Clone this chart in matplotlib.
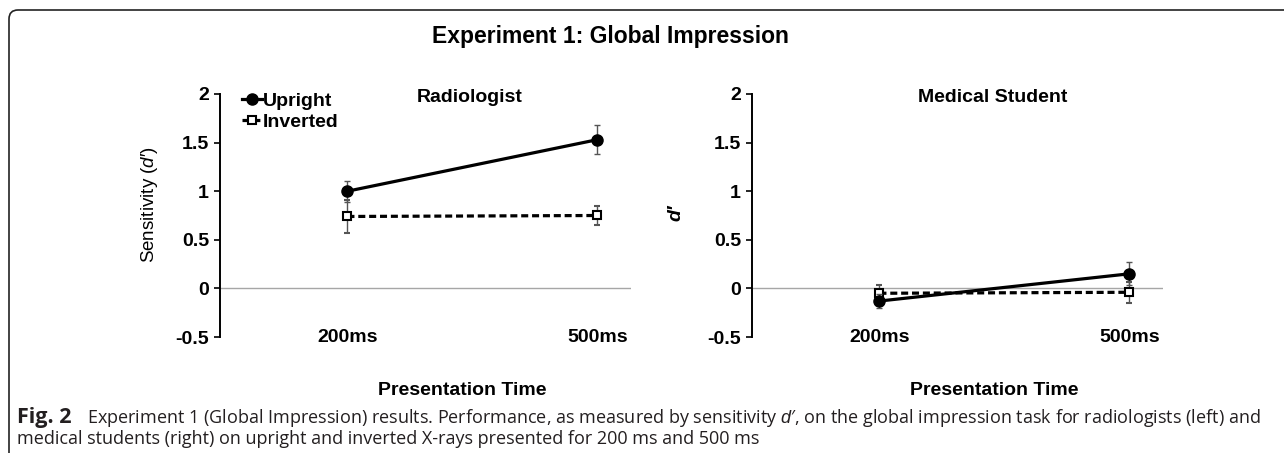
import matplotlib
matplotlib.use("Agg")
import matplotlib.pyplot as plt
from matplotlib.lines import Line2D
from matplotlib.patches import FancyBboxPatch
from matplotlib.transforms import IdentityTransform

times = ["200ms", "500ms"]
x_pos = [0, 1]

rad_upright = [1.00, 1.53]
rad_upright_err = [0.11, 0.15]
rad_inverted = [0.74, 0.75]
rad_inverted_err = [0.17, 0.10]

stu_upright = [-0.13, 0.15]
stu_upright_err = [0.07, 0.12]
stu_inverted = [-0.05, -0.04]
stu_inverted_err = [0.08, 0.11]

y_ticks = [-0.5, 0, 0.5, 1, 1.5, 2]
y_ticklabels = ["-0.5", "0", "0.5", "1", "1.5", "2"]

plt.rcParams["font.family"] = ["Liberation Sans", "DejaVu Sans"]
plt.rcParams["mathtext.fontset"] = "custom"
plt.rcParams["mathtext.rm"] = "Liberation Sans"
plt.rcParams["mathtext.it"] = "Liberation Sans:italic"
plt.rcParams["mathtext.bf"] = "Liberation Sans:bold"

W, H = 1284, 453
fig = plt.figure(figsize=(W / 100, H / 100), dpi=100)

up_style = dict(color="black", ls="-", lw=2.3, marker="o", ms=8, mfc="black", mec="black")
inv_style = dict(color="black", ls=(0, (2.2, 1.2)), lw=2.3, marker="s", ms=5.5,
                 mfc="white", mec="black", mew=1.5)
err_style = dict(ecolor="#555555", elinewidth=1.0, capsize=2, capthick=1.0)


def px_axes(x0, x1, y_top, y_bot):
    return fig.add_axes([x0 / W, 1 - y_bot / H, (x1 - x0) / W, (y_bot - y_top) / H])


def panel(ax, up, up_err, inv, inv_err, title, title_x):
    ax.axhline(0, color="#a6a6a6", lw=1.0, zorder=0)
    ax.errorbar(x_pos, inv, yerr=inv_err, zorder=3, **inv_style, **err_style)
    ax.errorbar(x_pos, up, yerr=up_err, zorder=4, **up_style, **err_style)
    ax.set_xlim(-0.51, 1.135)
    ax.set_ylim(-0.5, 2)
    for s in ["top", "right", "bottom"]:
        ax.spines[s].set_visible(False)
    ax.spines["left"].set_linewidth(1.4)
    ax.set_yticks(y_ticks)
    ax.set_yticklabels(y_ticklabels, fontsize=14, fontweight="bold")
    ax.tick_params(axis="y", length=4, width=1.2, pad=4)
    ax.set_xticks(x_pos)
    ax.set_xticklabels(times, fontsize=14, fontweight="bold")
    ax.tick_params(axis="x", length=0, pad=-6)
    ax.set_xlabel("Presentation Time", fontsize=14, fontweight="bold")
    ax.xaxis.set_label_coords(0.589, -0.185)
    ax.text(title_x, 0.985, title, transform=ax.transAxes, ha="center", va="center",
            fontsize=14, fontweight="bold")


ax1 = px_axes(220, 631, 94, 337)
panel(ax1, rad_upright, rad_upright_err, rad_inverted, rad_inverted_err, "Radiologist", 0.608)
ax1.set_ylabel("Sensitivity ($d$\u2032)", fontsize=13.5)
ax1.yaxis.set_label_coords(-0.145, 0.545)
handles = [Line2D([], [], **up_style), Line2D([], [], **inv_style)]
ax1.legend(handles, ["Upright", "Inverted"], loc="upper left", bbox_to_anchor=(0.035, 1.04),
           frameon=False, handlelength=1.0, handletextpad=0.05, labelspacing=0.2,
           borderaxespad=0, prop={"size": 14, "weight": "bold"})

ax2 = px_axes(752, 1163, 94, 337)
panel(ax2, stu_upright, stu_upright_err, stu_inverted, stu_inverted_err, "Medical Student", 0.586)
ax2.set_ylabel("d\u2032", fontsize=14, fontweight="bold", fontstyle="italic")
ax2.yaxis.set_label_coords(-0.165, 0.51)

fig.text(610 / W, 1 - 37 / H, "Experiment 1: Global Impression", ha="center", va="center",
         fontsize=16.5, fontweight="bold")

frame = FancyBboxPatch((9, -30), 1400, H - 10 + 30, boxstyle="round,pad=0,rounding_size=9",
                       transform=IdentityTransform(), fill=False, edgecolor="#222222", lw=1.2)
fig.add_artist(frame)

cap_font = ["Open Sans", "DejaVu Sans"]
fig.text(17 / W, 1 - 418 / H, "Fig. 2", ha="left", va="center", fontsize=15.5,
         fontweight="bold", family=cap_font, color="#231f20")
fig.text(87 / W, 1 - 418 / H,
         "Experiment 1 (Global Impression) results. Performance, as measured by sensitivity "
         "$d$\u2032, on the global impression task for radiologists (left) and",
         ha="left", va="center", fontsize=13, family=cap_font, color="#231f20")
fig.text(17 / W, 1 - 439 / H,
         "medical students (right) on upright and inverted X-rays presented for 200 ms and 500 ms",
         ha="left", va="center", fontsize=13, family=cap_font, color="#231f20")

fig.savefig("out.png", dpi=100)
